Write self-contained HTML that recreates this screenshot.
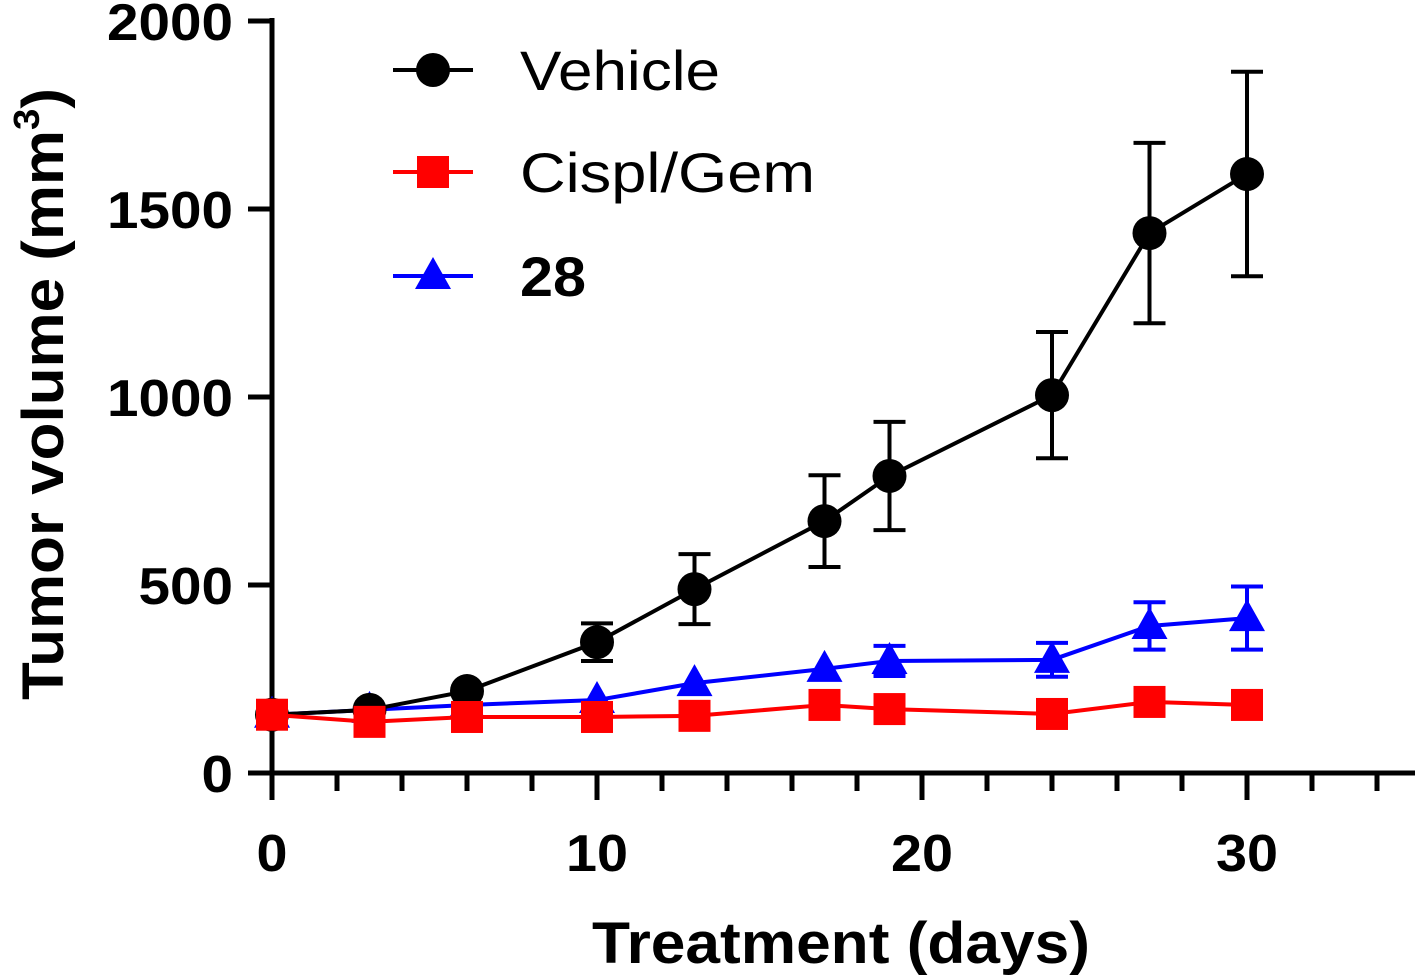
<!DOCTYPE html>
<html><head><meta charset="utf-8"><style>
body{margin:0;background:#fff}
svg{display:block;font-family:"Liberation Sans",Arial,sans-serif}
</style></head><body>
<svg id="chart" width="1415" height="979" viewBox="0 0 1415 979">
<g id="axes"></g>
<g id="series"></g>
<g id="legend"></g>
<text x="592" y="963" font-size="58" font-weight="bold" textLength="498" lengthAdjust="spacingAndGlyphs">Treatment (days)</text>
<text transform="translate(63,700) rotate(-90)" font-size="58" font-weight="bold" textLength="612" lengthAdjust="spacingAndGlyphs">Tumor volume (mm<tspan font-size="36" dy="-24">3</tspan><tspan dy="24">)</tspan></text>
</svg>
<script>
const days=[0,3,6,10,13,17,19,24,27,30];
const vehicle=[155,168,218,348,489,670,790,1005,1436,1593];
const vehicleErr=[0,0,0,50,93,122,144,168,240,272];
const cispl=[155,136,149,149,152,181,170,157,189,181];
const cisplErr=[0,0,0,0,0,0,0,0,0,0];
const c28=[155,168,181,194,239,277,298,301,391,412];
const c28Err=[0,0,0,0,0,0,40,45,63,84];
const xTicks=[0,10,20,30];
const yTicks=[0,500,1000,1500,2000];
const NS="http://www.w3.org/2000/svg";
const x=d=>272+d*32.5, y=v=>773-v*0.376;
function mk(t,a,p){const e=document.createElementNS(NS,t);for(const k in a)e.setAttribute(k,a[k]);p.appendChild(e);return e;}
const ax=document.getElementById('axes');
let l=mk('line',{x1:272,y1:18,x2:272,y2:775,stroke:'#000','stroke-width':5},ax);


l=mk('line',{x1:270,y1:773,x2:1415,y2:773,stroke:'#000','stroke-width':5},ax);


for(let d=0;d<=34;d+=2){const maj=d%10==0;const t=mk('line',{x1:x(d),y1:773,x2:x(d),y2:maj?800:791,stroke:'#000','stroke-width':5},ax);

}
xTicks.forEach(d=>{const s=String(d);const w=s.length*31;const t=mk('text',{x:x(d)-w/2,y:871,'font-size':52,'font-weight':'bold',textLength:w,lengthAdjust:'spacingAndGlyphs'},ax);t.textContent=s;

});
yTicks.forEach(v=>{const t=mk('line',{x1:248,y1:y(v),x2:272,y2:y(v),stroke:'#000','stroke-width':5},ax);


const str=String(v);const w=str.length*31.5;
const s=mk('text',{x:233-w,y:y(v)+19,'font-size':52,'font-weight':'bold',textLength:w,lengthAdjust:'spacingAndGlyphs'},ax);s.textContent=str;

});
const sg=document.getElementById('series');
function marker(shape,cx,cy,col,p){let e;
if(shape=='circle')e=mk('circle',{cx:cx,cy:cy,r:17,fill:col},p);
else if(shape=='square')e=mk('rect',{x:cx-16,y:cy-16,width:32,height:32,fill:col},p);
else e=mk('polygon',{points:`${cx},${cy-19} ${cx-18},${cy+13} ${cx+18},${cy+13}`,fill:col},p);
return e;}
function series(name,vals,errs,col,shape){const g=mk('g',{},sg);


vals.forEach((v,i)=>{if(errs[i]>0){const e=mk('path',{d:`M${x(days[i])},${y(v+errs[i])}V${y(v-errs[i])}M${x(days[i])-16},${y(v+errs[i])}h32M${x(days[i])-16},${y(v-errs[i])}h32`,stroke:col,'stroke-width':4,fill:'none'},g);

}});
const pl=mk('polyline',{points:vals.map((v,i)=>x(days[i])+','+y(v)).join(' '),stroke:col,'stroke-width':4,fill:'none'},g);


vals.forEach((v,i)=>{const m=marker(shape,x(days[i]),y(v),col,g);

});}
series('compound-28',c28,c28Err,'#0000ff','tri');
series('vehicle',vehicle,vehicleErr,'#000','circle');
series('cispl-gem',cispl,cisplErr,'#ff0000','square');
const lg=document.getElementById('legend');
[['Vehicle','#000','circle',70,'normal',200],['Cispl/Gem','#ff0000','square',172,'normal',295],['28','#0000ff','tri',276,'bold',66]].forEach(r=>{
const g=mk('g',{},lg);


mk('line',{x1:393,y1:r[3],x2:473,y2:r[3],stroke:r[1],'stroke-width':4},g);
marker(r[2],433,r[3],r[1],g);
const t=mk('text',{x:520,y:r[3]+20,'font-size':56,'font-weight':r[4],textLength:r[5],lengthAdjust:'spacingAndGlyphs'},g);t.textContent=r[0];});
</script>
</body></html>
